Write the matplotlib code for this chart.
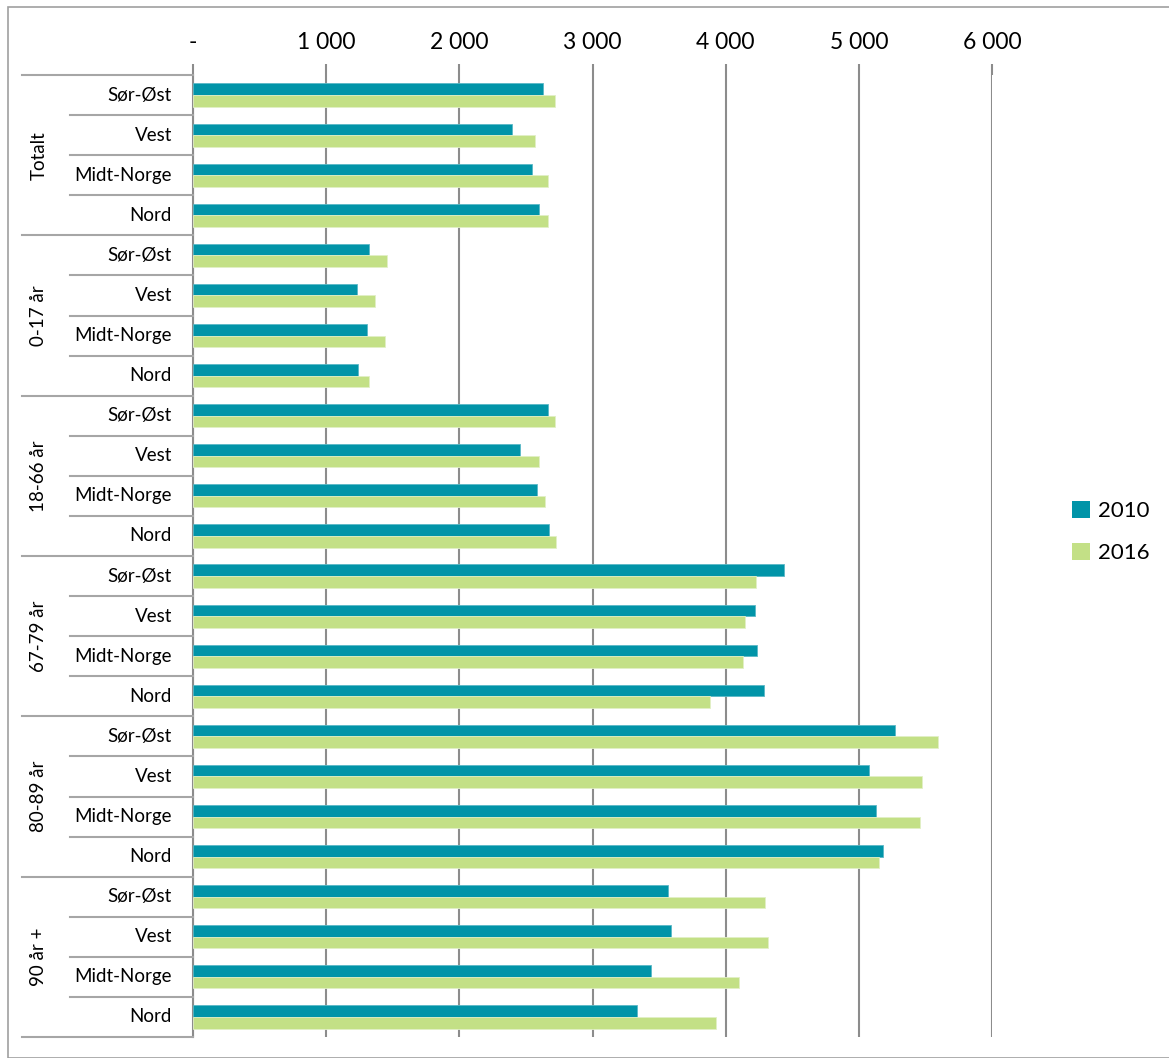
import numpy as np
import matplotlib
matplotlib.use("Agg")
import matplotlib.pyplot as plt
from matplotlib.patches import Patch, Rectangle
from matplotlib.lines import Line2D
from matplotlib.transforms import blended_transform_factory

plt.rcParams["font.family"] = ["Lato", "DejaVu Sans"]

groups = ["Totalt", "0-17 år", "18-66 år", "67-79 år", "80-89 år", "90 år +"]
regions = ["Sør-Øst", "Vest", "Midt-Norge", "Nord"]
years = ["2010", "2016"]

v2010 = [2626, 2395, 2543, 2601,
         1325, 1233, 1303, 1238,
         2668, 2453, 2581, 2673,
         4437, 4222, 4237, 4290,
         5275, 5076, 5131, 5181,
         3564, 3590, 3436, 3336]
v2016 = [2718, 2566, 2663, 2668,
         1460, 1365, 1443, 1323,
         2718, 2596, 2646, 2723,
         4231, 4143, 4128, 3885,
         5591, 5474, 5461, 5151,
         4293, 4315, 4100, 3927]
xticks = [0, 1000, 2000, 3000, 4000, 5000, 6000]

TEAL = "#0194a8"
GREEN = "#c3e086"
GRID = "#8c8c8c"
SEP = "#a6a6a6"

W, H = 1169, 1058
fig = plt.figure(figsize=(W / 100, H / 100), dpi=100)

# plot area in pixels: x 193..992, y 75..1037
ax = fig.add_axes([193 / W, (H - 1037) / H, (992 - 193) / W, (1037 - 75) / H])

n = len(v2010)
y = np.arange(n)
h = 0.29
ax.barh(y - h / 2, v2010, height=h, color=TEAL, edgecolor="#5ab8c6", linewidth=0.6, zorder=3)
ax.barh(y + h / 2, v2016, height=h, color=GREEN, edgecolor="#e2f0c6", linewidth=0.6, zorder=3)

ax.set_xlim(0, 6000)
ax.set_ylim(n - 0.5, -0.5)
ax.xaxis.tick_top()
ax.set_xticks(xticks)
ax.set_xticklabels(["-" if t == 0 else f"{t:,}".replace(",", " ") for t in xticks],
                   fontsize=16.5)
ax.tick_params(axis="x", length=8, width=1.5, color=GRID, pad=8)
ax.set_yticks([])
ax.grid(axis="x", color=GRID, linewidth=1.5, zorder=0)
for s in ["top", "right", "bottom"]:
    ax.spines[s].set_visible(False)
ax.spines["left"].set_color(GRID)
ax.spines["left"].set_linewidth(1.5)

# category labels and separators to the left of the plot area
tr = blended_transform_factory(fig.transFigure, ax.transData)
for k in range(n + 1):
    x0 = 22 / W if k % 4 == 0 else 70 / W
    fig.add_artist(Line2D([x0, 193 / W], [k - 0.5, k - 0.5], transform=tr,
                          color=SEP, linewidth=1.5))
for i in range(n):
    fig.text(172 / W, i, regions[i % 4], transform=tr, ha="right", va="center",
             fontsize=13.5)
for g, name in enumerate(groups):
    fig.text(39 / W, g * 4 + 1.5, name, transform=tr, ha="center", va="center",
             rotation=90, fontsize=13.5)

handles = [Patch(facecolor=TEAL), Patch(facecolor=GREEN)]
fig.legend(handles, years, loc="center left", bbox_to_anchor=(1052 / W, (H - 532) / H),
           frameon=False, fontsize=16, handlelength=0.8, handleheight=0.8,
           handletextpad=0.35, labelspacing=1.0)

# outer chart border
fig.add_artist(Rectangle((8 / W, 0), 1.2, (H - 7) / H, transform=fig.transFigure,
                         fill=False, edgecolor="#a0a0a0", linewidth=1.2))

fig.savefig("out.png", dpi=100)
